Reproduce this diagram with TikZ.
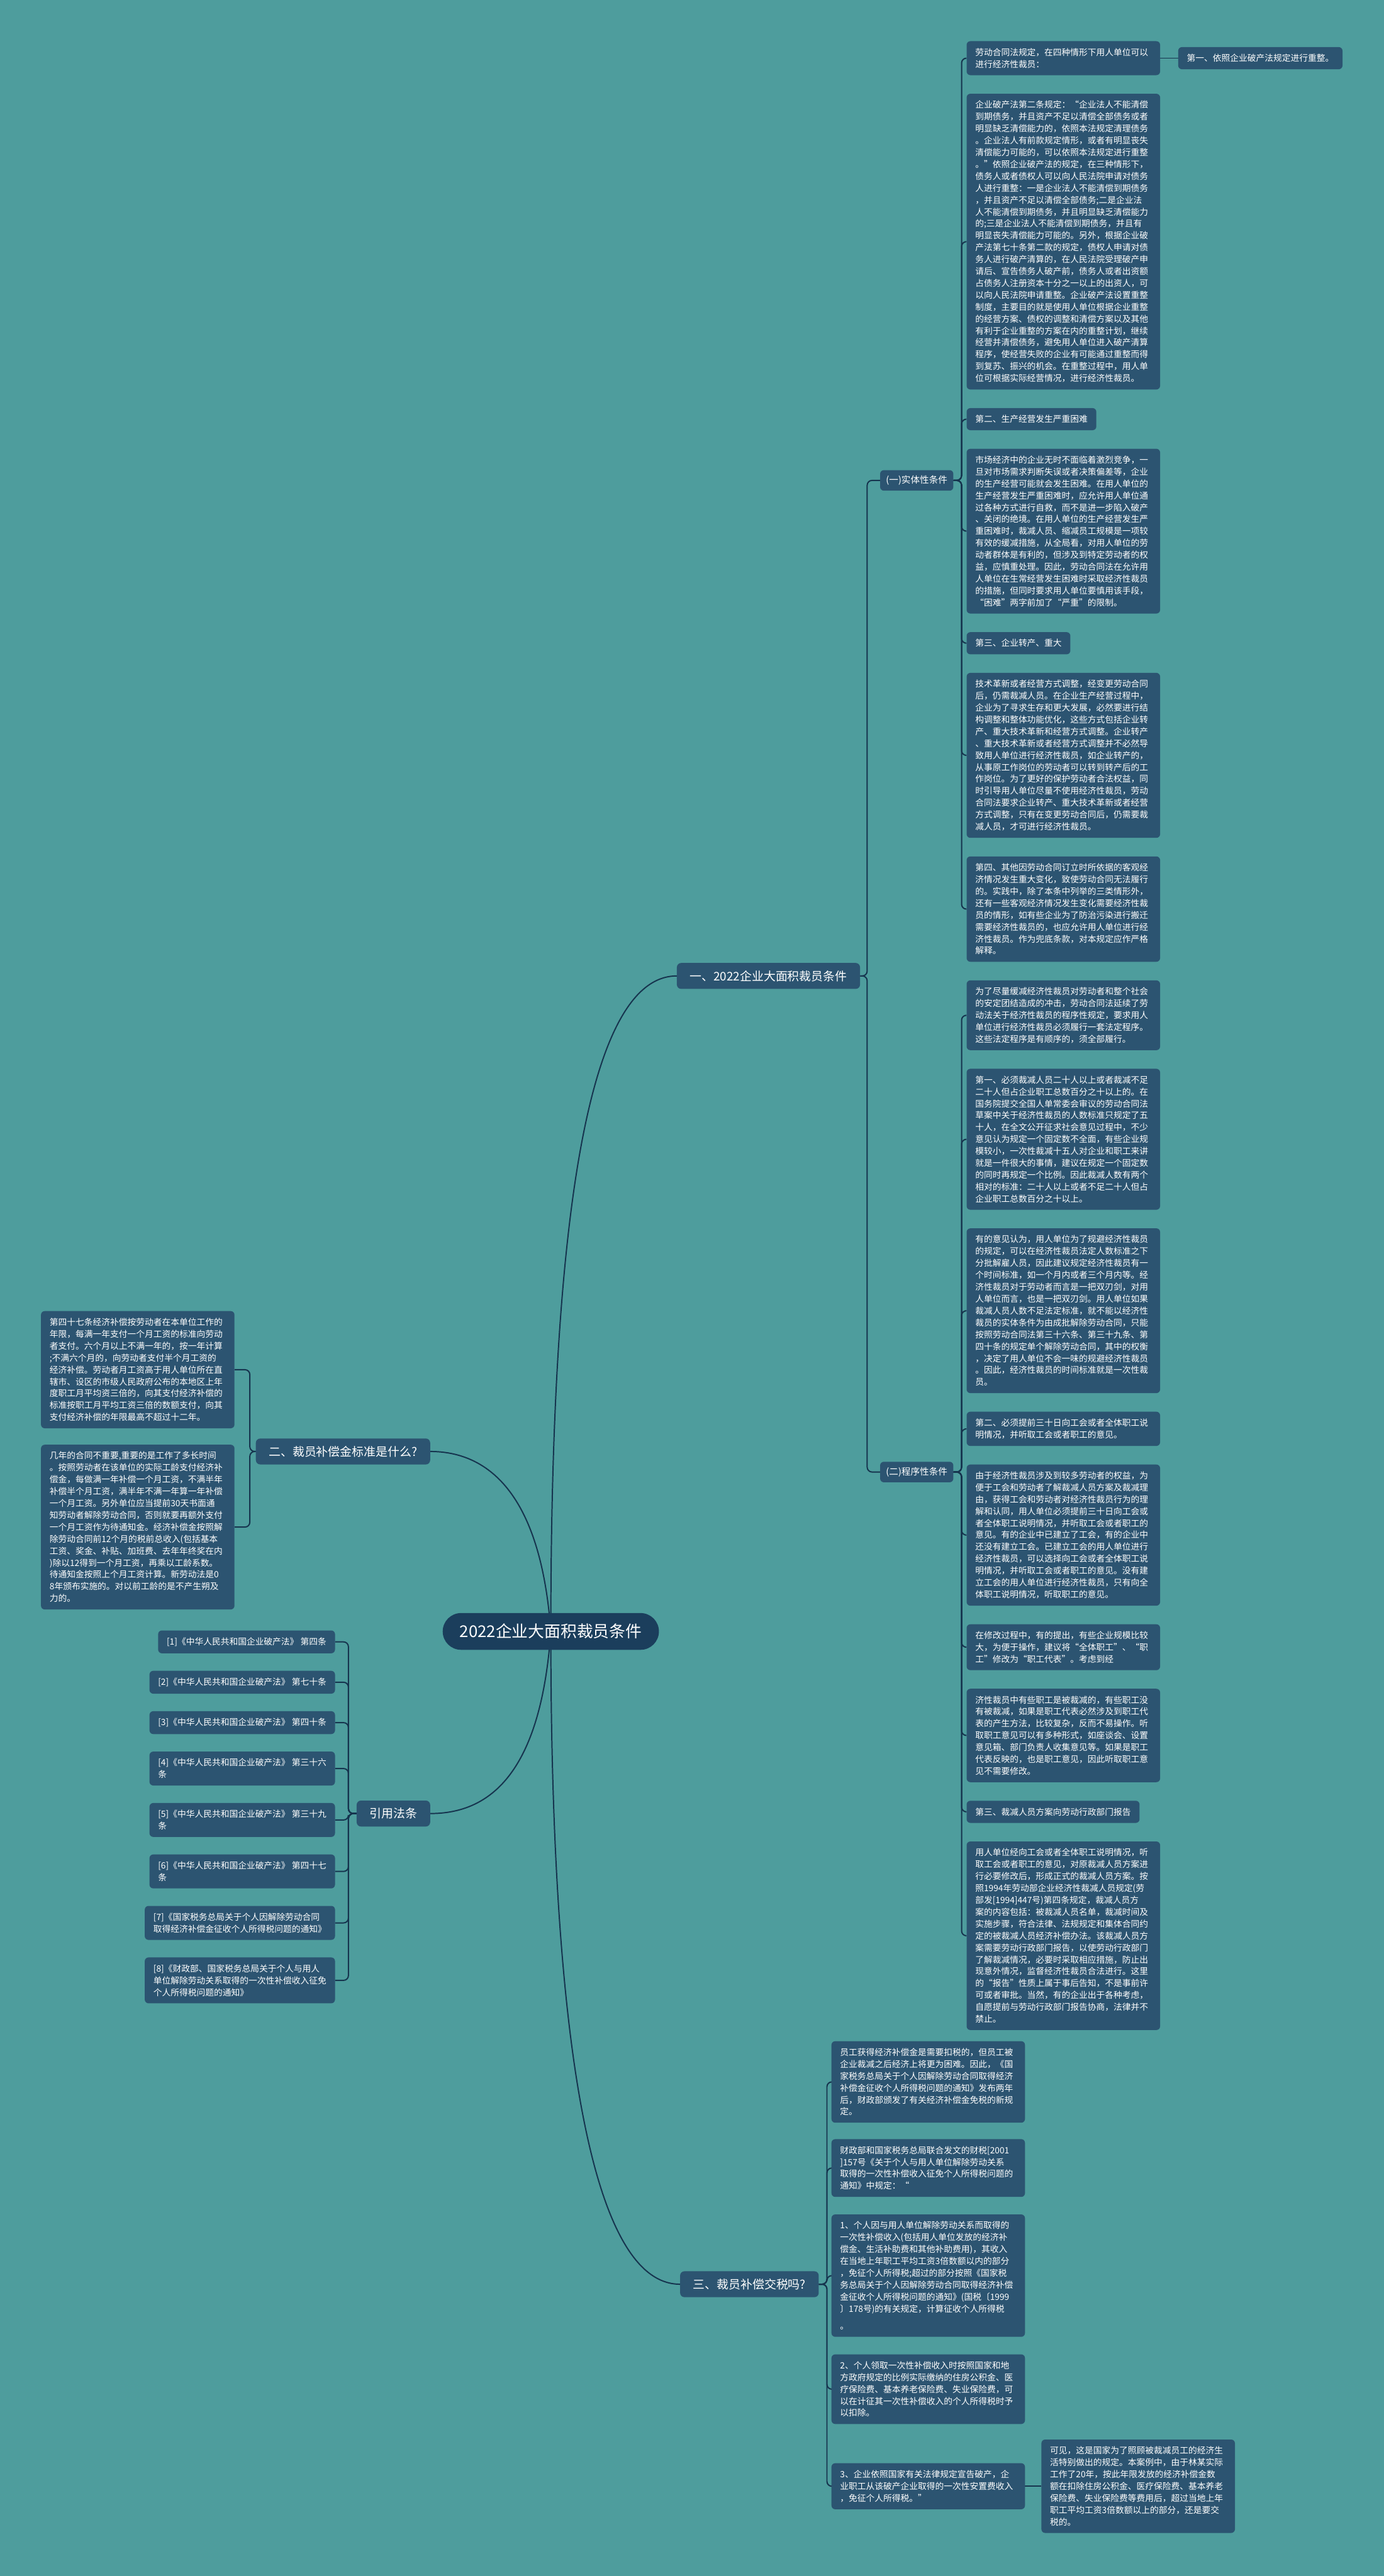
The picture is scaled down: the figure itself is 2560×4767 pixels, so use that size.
\documentclass[tikz,border=0pt]{standalone}
\usepackage{fontspec}
\setmainfont{Noto Sans CJK SC}
\usetikzlibrary{calc}
\definecolor{bgteal}{RGB}{78,157,157}
\definecolor{nodeblue}{RGB}{44,84,113}
\definecolor{rootblue}{RGB}{27,62,92}
\definecolor{linecol}{RGB}{22,52,78}
\pgfdeclarelayer{bg}
\pgfsetlayers{bg,main}
\tikzset{
 box/.style={fill=nodeblue, text=white, rounded corners=7pt, align=left, inner xsep=16pt, inner ysep=13pt, font=\fontsize{16}{22}\selectfont},
 body/.style={box, text width=326pt, anchor=north west},
 lab/.style={box, anchor=north west},
 refbox/.style={box, anchor=north east},
 branch/.style={fill=nodeblue, text=white, rounded corners=8pt, inner xsep=24pt, inner ysep=0pt, minimum height=48pt, font=\fontsize{22}{26}\selectfont},
 sub/.style={fill=nodeblue, text=white, rounded corners=7pt, inner xsep=11pt, inner ysep=0pt, minimum height=38pt, font=\fontsize{17}{20}\selectfont},
 rootbox/.style={fill=rootblue, text=white, rounded corners=34pt, minimum width=400pt, minimum height=68pt, font=\fontsize{30}{34}\selectfont},
 conn/.style={draw=linecol, line width=2.3pt},
 elbow/.style={conn, rounded corners=9pt},
}
\begin{document}
\begin{tikzpicture}[x=1pt,y=-1pt]
\useasboundingbox (0,0) rectangle (2560,4767);
\begin{pgfonlayer}{bg}
\fill[bgteal] (0,0) rectangle (2560,4767);
\end{pgfonlayer}

% root and branches
\node[rootbox] (root) at (1019,3019) {2022企业大面积裁员条件};
\node[branch,anchor=west] (b1) at (1252,1806) {一、2022企业大面积裁员条件};
\node[sub,anchor=west] (s1) at (1628,889) {(一)实体性条件};
\node[sub,anchor=west] (s2) at (1628,2724) {(二)程序性条件};
\node[branch,anchor=east] (b2) at (796,2686) {二、裁员补偿金标准是什么?};
\node[branch,anchor=east] (b3) at (796,3356) {引用法条};
\node[branch,anchor=west] (b4) at (1258,4227) {三、裁员补偿交税吗?};

% right column
\node[body] (r1) at (1788,76) {劳动合同法规定，在四种情形下用人单位可以\\进行经济性裁员：};
\node[lab,anchor=west] (r1b) at ($(r1.east)+(33,0)$) {第一、依照企业破产法规定进行重整。};
\node[body] (r2) at ($(r1.south west)+(0,34)$) {企业破产法第二条规定：“企业法人不能清偿\\到期债务，并且资产不足以清偿全部债务或者\\明显缺乏清偿能力的，依照本法规定清理债务\\。企业法人有前款规定情形，或者有明显丧失\\清偿能力可能的，可以依照本法规定进行重整\\。”依照企业破产法的规定，在三种情形下，\\债务人或者债权人可以向人民法院申请对债务\\人进行重整：一是企业法人不能清偿到期债务\\，并且资产不足以清偿全部债务;二是企业法\\人不能清偿到期债务，并且明显缺乏清偿能力\\的;三是企业法人不能清偿到期债务，并且有\\明显丧失清偿能力可能的。另外，根据企业破\\产法第七十条第二款的规定，债权人申请对债\\务人进行破产清算的，在人民法院受理破产申\\请后、宣告债务人破产前，债务人或者出资额\\占债务人注册资本十分之一以上的出资人，可\\以向人民法院申请重整。企业破产法设置重整\\制度，主要目的就是使用人单位根据企业重整\\的经营方案、债权的调整和清偿方案以及其他\\有利于企业重整的方案在内的重整计划，继续\\经营并清偿债务，避免用人单位进入破产清算\\程序，使经营失败的企业有可能通过重整而得\\到复苏、振兴的机会。在重整过程中，用人单\\位可根据实际经营情况，进行经济性裁员。};
\node[lab] (r3) at ($(r2.south west)+(0,34)$) {第二、生产经营发生严重困难};
\node[body] (r4) at ($(r3.south west)+(0,34)$) {市场经济中的企业无时不面临着激烈竞争，一\\旦对市场需求判断失误或者决策偏差等，企业\\的生产经营可能就会发生困难。在用人单位的\\生产经营发生严重困难时，应允许用人单位通\\过各种方式进行自救，而不是进一步陷入破产\\、关闭的绝境。在用人单位的生产经营发生严\\重困难时，裁减人员、缩减员工规模是一项较\\有效的缓减措施，从全局看，对用人单位的劳\\动者群体是有利的，但涉及到特定劳动者的权\\益，应慎重处理。因此，劳动合同法在允许用\\人单位在生常经营发生困难时采取经济性裁员\\的措施，但同时要求用人单位要慎用该手段，\\“困难”两字前加了“严重”的限制。};
\node[lab] (r5) at ($(r4.south west)+(0,34)$) {第三、企业转产、重大};
\node[body] (r6) at ($(r5.south west)+(0,34)$) {技术革新或者经营方式调整，经变更劳动合同\\后，仍需裁减人员。在企业生产经营过程中，\\企业为了寻求生存和更大发展，必然要进行结\\构调整和整体功能优化，这些方式包括企业转\\产、重大技术革新和经营方式调整。企业转产\\、重大技术革新或者经营方式调整并不必然导\\致用人单位进行经济性裁员，如企业转产的，\\从事原工作岗位的劳动者可以转到转产后的工\\作岗位。为了更好的保护劳动者合法权益，同\\时引导用人单位尽量不使用经济性裁员，劳动\\合同法要求企业转产、重大技术革新或者经营\\方式调整，只有在变更劳动合同后，仍需要裁\\减人员，才可进行经济性裁员。};
\node[body] (r7) at ($(r6.south west)+(0,34)$) {第四、其他因劳动合同订立时所依据的客观经\\济情况发生重大变化，致使劳动合同无法履行\\的。实践中，除了本条中列举的三类情形外，\\还有一些客观经济情况发生变化需要经济性裁\\员的情形，如有些企业为了防治污染进行搬迁\\需要经济性裁员的，也应允许用人单位进行经\\济性裁员。作为兜底条款，对本规定应作严格\\解释。};
\node[body] (r8) at ($(r7.south west)+(0,34)$) {为了尽量缓减经济性裁员对劳动者和整个社会\\的安定团结造成的冲击，劳动合同法延续了劳\\动法关于经济性裁员的程序性规定，要求用人\\单位进行经济性裁员必须履行一套法定程序。\\这些法定程序是有顺序的，须全部履行。};
\node[body] (r9) at ($(r8.south west)+(0,34)$) {第一、必须裁减人员二十人以上或者裁减不足\\二十人但占企业职工总数百分之十以上的。在\\国务院提交全国人单常委会审议的劳动合同法\\草案中关于经济性裁员的人数标准只规定了五\\十人，在全文公开征求社会意见过程中，不少\\意见认为规定一个固定数不全面，有些企业规\\模较小，一次性裁减十五人对企业和职工来讲\\就是一件很大的事情，建议在规定一个固定数\\的同时再规定一个比例。因此裁减人数有两个\\相对的标准：二十人以上或者不足二十人但占\\企业职工总数百分之十以上。};
\node[body] (r10) at ($(r9.south west)+(0,34)$) {有的意见认为，用人单位为了规避经济性裁员\\的规定，可以在经济性裁员法定人数标准之下\\分批解雇人员，因此建议规定经济性裁员有一\\个时间标准，如一个月内或者三个月内等。经\\济性裁员对于劳动者而言是一把双刃剑，对用\\人单位而言，也是一把双刃剑。用人单位如果\\裁减人员人数不足法定标准，就不能以经济性\\裁员的实体条件为由成批解除劳动合同，只能\\按照劳动合同法第三十六条、第三十九条、第\\四十条的规定单个解除劳动合同，其中的权衡\\，决定了用人单位不会一味的规避经济性裁员\\。因此，经济性裁员的时间标准就是一次性裁\\员。};
\node[body] (r11) at ($(r10.south west)+(0,34)$) {第二、必须提前三十日向工会或者全体职工说\\明情况，并听取工会或者职工的意见。};
\node[body] (r12) at ($(r11.south west)+(0,34)$) {由于经济性裁员涉及到较多劳动者的权益，为\\便于工会和劳动者了解裁减人员方案及裁减理\\由，获得工会和劳动者对经济性裁员行为的理\\解和认同，用人单位必须提前三十日向工会或\\者全体职工说明情况，并听取工会或者职工的\\意见。有的企业中已建立了工会，有的企业中\\还没有建立工会。已建立工会的用人单位进行\\经济性裁员，可以选择向工会或者全体职工说\\明情况，并听取工会或者职工的意见。没有建\\立工会的用人单位进行经济性裁员，只有向全\\体职工说明情况，听取职工的意见。};
\node[body] (r13) at ($(r12.south west)+(0,34)$) {在修改过程中，有的提出，有些企业规模比较\\大，为便于操作，建议将“全体职工”、“职\\工”修改为“职工代表”。考虑到经};
\node[body] (r14) at ($(r13.south west)+(0,34)$) {济性裁员中有些职工是被裁减的，有些职工没\\有被裁减，如果是职工代表必然涉及到职工代\\表的产生方法，比较复杂，反而不易操作。听\\取职工意见可以有多种形式，如座谈会、设置\\意见箱、部门负责人收集意见等。如果是职工\\代表反映的，也是职工意见，因此听取职工意\\见不需要修改。};
\node[lab] (r15) at ($(r14.south west)+(0,34)$) {第三、裁减人员方案向劳动行政部门报告};
\node[body] (r16) at ($(r15.south west)+(0,34)$) {用人单位经向工会或者全体职工说明情况，听\\取工会或者职工的意见，对原裁减人员方案进\\行必要修改后，形成正式的裁减人员方案。按\\照1994年劳动部企业经济性裁减人员规定(劳\\部发[1994]447号)第四条规定，裁减人员方\\案的内容包括：被裁减人员名单，裁减时间及\\实施步骤，符合法律、法规规定和集体合同约\\定的被裁减人员经济补偿办法。该裁减人员方\\案需要劳动行政部门报告，以使劳动行政部门\\了解裁减情况，必要时采取相应措施，防止出\\现意外情况，监督经济性裁员合法进行。这里\\的“报告”性质上属于事后告知，不是事前许\\可或者审批。当然，有的企业出于各种考虑，\\自愿提前与劳动行政部门报告协商，法律并不\\禁止。};

% left: compensation
\node[body,anchor=north east] (l1) at (434,2426) {第四十七条经济补偿按劳动者在本单位工作的\\年限，每满一年支付一个月工资的标准向劳动\\者支付。六个月以上不满一年的，按一年计算\\;不满六个月的，向劳动者支付半个月工资的\\经济补偿。劳动者月工资高于用人单位所在直\\辖市、设区的市级人民政府公布的本地区上年\\度职工月平均资三倍的，向其支付经济补偿的\\标准按职工月平均工资三倍的数额支付，向其\\支付经济补偿的年限最高不超过十二年。};
\node[body,anchor=north east] (l2) at ($(l1.south east)+(0,30)$) {几年的合同不重要,重要的是工作了多长时间\\。按照劳动者在该单位的实际工龄支付经济补\\偿金，每做满一年补偿一个月工资，不满半年\\补偿半个月工资，满半年不满一年算一年补偿\\一个月工资。另外单位应当提前30天书面通\\知劳动者解除劳动合同，否则就要再额外支付\\一个月工资作为待通知金。经济补偿金按照解\\除劳动合同前12个月的税前总收入(包括基本\\工资、奖金、补贴、加班费、去年年终奖在内\\)除以12得到一个月工资，再乘以工龄系数。\\待通知金按照上个月工资计算。新劳动法是0\\8年颁布实施的。对以前工龄的是不产生朔及\\力的。};

% left: references
\node[refbox] (f1) at (620,3017) {[1]《中华人民共和国企业破产法》 第四条};
\node[refbox] (f2) at ($(f1.south east)+(0,32)$) {[2]《中华人民共和国企业破产法》 第七十条};
\node[refbox] (f3) at ($(f2.south east)+(0,32)$) {[3]《中华人民共和国企业破产法》 第四十条};
\node[refbox] (f4) at ($(f3.south east)+(0,32)$) {[4]《中华人民共和国企业破产法》 第三十六\\条};
\node[refbox] (f5) at ($(f4.south east)+(0,32)$) {[5]《中华人民共和国企业破产法》 第三十九\\条};
\node[refbox] (f6) at ($(f5.south east)+(0,32)$) {[6]《中华人民共和国企业破产法》 第四十七\\条};
\node[refbox] (f7) at ($(f6.south east)+(0,32)$) {[7]《国家税务总局关于个人因解除劳动合同\\取得经济补偿金征收个人所得税问题的通知》};
\node[refbox] (f8) at ($(f7.south east)+(0,32)$) {[8]《财政部、国家税务总局关于个人与用人\\单位解除劳动关系取得的一次性补偿收入征免\\个人所得税问题的通知》};

% bottom: tax
\node[body] (t1) at (1538,3777) {员工获得经济补偿金是需要扣税的，但员工被\\企业裁减之后经济上将更为困难。因此，《国\\家税务总局关于个人因解除劳动合同取得经济\\补偿金征收个人所得税问题的通知》发布两年\\后，财政部颁发了有关经济补偿金免税的新规\\定。};
\node[body] (t2) at ($(t1.south west)+(0,30)$) {财政部和国家税务总局联合发文的财税[2001\\]157号《关于个人与用人单位解除劳动关系\\取得的一次性补偿收入征免个人所得税问题的\\通知》中规定：“};
\node[body] (t3) at ($(t2.south west)+(0,32)$) {1、个人因与用人单位解除劳动关系而取得的\\一次性补偿收入(包括用人单位发放的经济补\\偿金、生活补助费和其他补助费用)，其收入\\在当地上年职工平均工资3倍数额以内的部分\\，免征个人所得税;超过的部分按照《国家税\\务总局关于个人因解除劳动合同取得经济补偿\\金征收个人所得税问题的通知》(国税〔1999\\〕178号)的有关规定，计算征收个人所得税\\[10pt]。};
\node[body] (t4) at ($(t3.south west)+(0,32)$) {2、个人领取一次性补偿收入时按照国家和地\\方政府规定的比例实际缴纳的住房公积金、医\\疗保险费、基本养老保险费、失业保险费，可\\以在计征其一次性补偿收入的个人所得税时予\\以扣除。};
\node[body] (t5) at (1538,4558) {3、企业依照国家有关法律规定宣告破产，企\\业职工从该破产企业取得的一次性安置费收入\\，免征个人所得税。”};
\node[body,anchor=west] (t6) at ($(t5.east)+(30,0)$) {可见，这是国家为了照顾被裁减员工的经济生\\活特别做出的规定。本案例中，由于林某实际\\工作了20年，按此年限发放的经济补偿金数\\额在扣除住房公积金、医疗保险费、基本养老\\保险费、失业保险费等费用后，超过当地上年\\职工平均工资3倍数额以上的部分，还是要交\\税的。};

% connectors
\begin{pgfonlayer}{bg}
\draw[conn] (root.center) .. controls (1019,2300) and (1080,1806) .. (b1.west);
\draw[conn] (root.center) .. controls (1019,3700) and (1080,4227) .. (b4.west);
\draw[conn] (root.center) .. controls (1000,2760) and (900,2686) .. (b2.east);
\draw[conn] (root.center) .. controls (1000,3290) and (900,3356) .. (b3.east);
\foreach \c in {s1,s2} \draw[elbow] (b1.east) -- ++(13,0) |- (\c.west);
\foreach \i in {1,...,7} \draw[elbow] (s1.east) -- ++(15,0) |- (r\i.west);
\foreach \i in {8,...,16} \draw[elbow] (s2.east) -- ++(15,0) |- (r\i.west);
\draw[conn] (r1.east) -- (r1b.west);
\foreach \c in {l1,l2} \draw[elbow] (b2.west) -- ++(-11,0) |- (\c.east);
\foreach \i in {1,...,8} \draw[elbow] (b3.west) -- ++(-15,0) |- (f\i.east);
\foreach \i in {1,...,5} \draw[elbow] (b4.east) -- ++(15,0) |- (t\i.west);
\draw[conn] (t5.east) -- (t6.west);
\end{pgfonlayer}
\end{tikzpicture}
\end{document}
